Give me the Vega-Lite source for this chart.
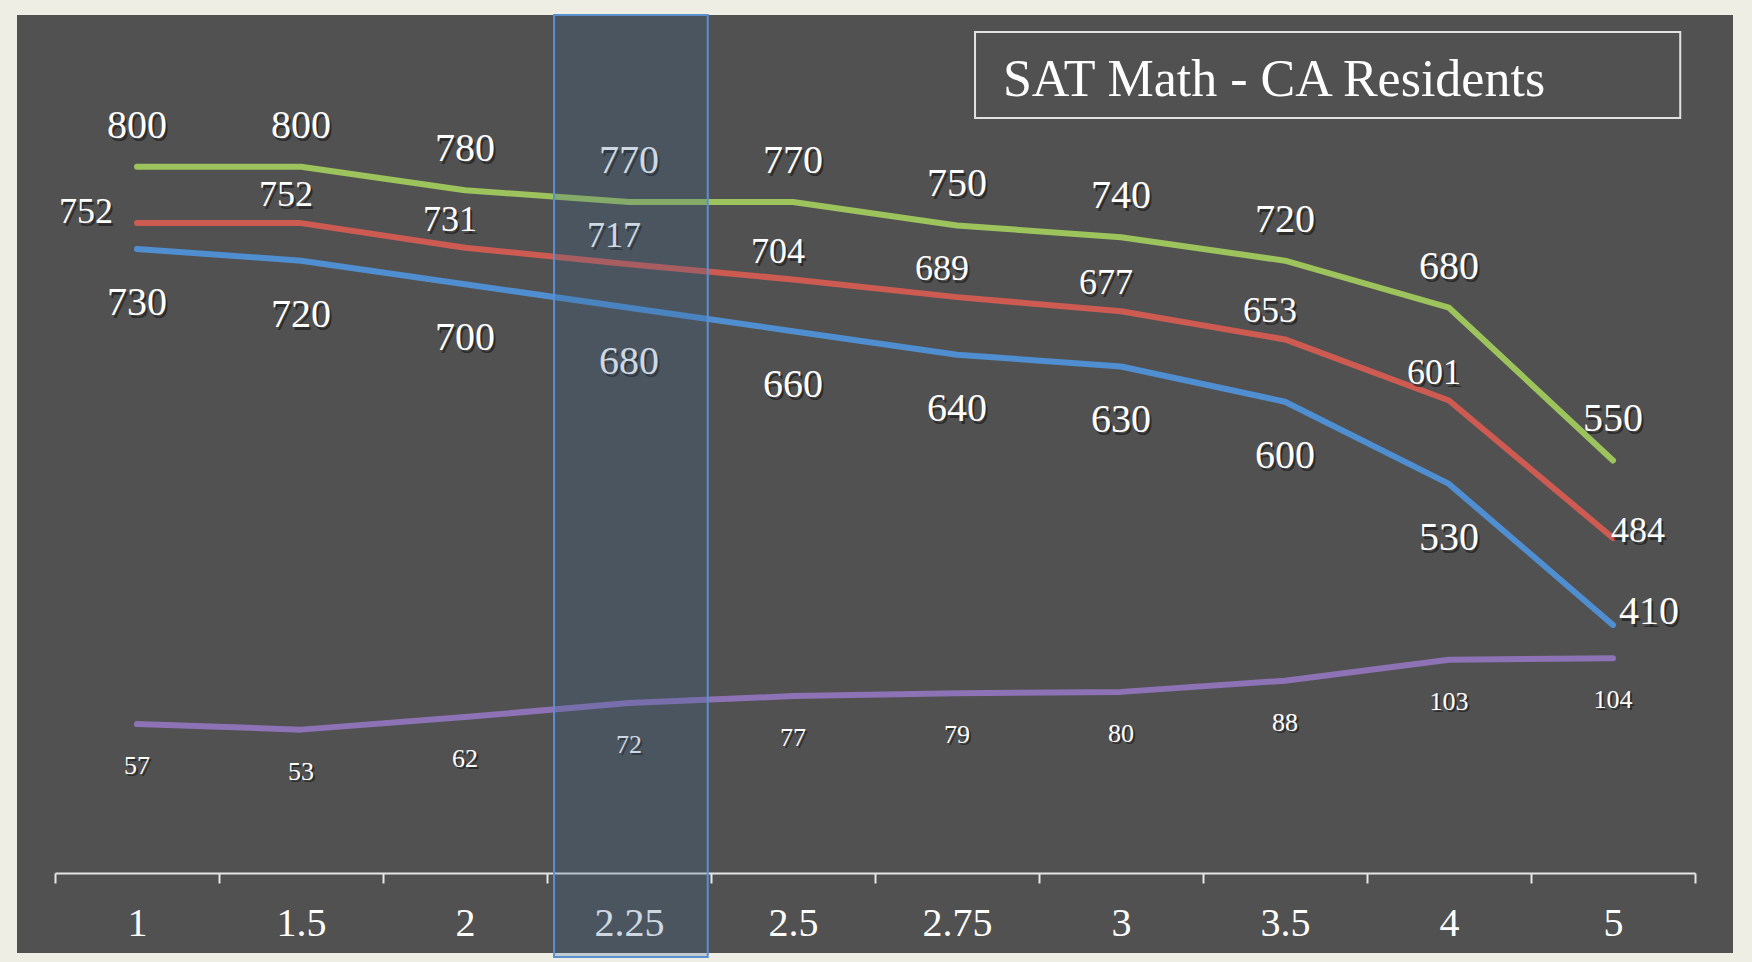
{
  "$schema": "https://vega.github.io/schema/vega-lite/v6.json",
  "width": 1640,
  "height": 862,
  "autosize": {"type": "none"},
  "padding": {"left": 55, "top": 53, "right": 57, "bottom": 47},
  "background": "#efeee4",
  "data": {
    "values": [
      {"x": "1", "top": 800, "mean": 752, "low": 730, "n": 57},
      {"x": "1.5", "top": 800, "mean": 752, "low": 720, "n": 53},
      {"x": "2", "top": 780, "mean": 731, "low": 700, "n": 62},
      {"x": "2.25", "top": 770, "mean": 717, "low": 680, "n": 72},
      {"x": "2.5", "top": 770, "mean": 704, "low": 660, "n": 77},
      {"x": "2.75", "top": 750, "mean": 689, "low": 640, "n": 79},
      {"x": "3", "top": 740, "mean": 677, "low": 630, "n": 80},
      {"x": "3.5", "top": 720, "mean": 653, "low": 600, "n": 88},
      {"x": "4", "top": 680, "mean": 601, "low": 530, "n": 103},
      {"x": "5", "top": 550, "mean": 484, "low": 410, "n": 104}
    ]
  },
  "layer": [
    {
      "transform": [{"fold": ["top", "mean", "low"], "as": ["series", "value"]}],
      "encoding": {
        "x": {"field": "x", "type": "nominal", "title": null,
              "scale": {"type": "band", "domain": ["1", "1.5", "2", "2.25", "2.5", "2.75", "3", "3.5", "4", "5"], "paddingInner": 0, "paddingOuter": 0}},
        "y": {"field": "value", "type": "quantitative", "axis": null,
              "scale": {"domain": [163.1, 896.8], "nice": false, "zero": false}},
        "text": {"field": "value", "type": "quantitative", "format": "d"}
      },
      "layer": [
        {
          "mark": {"type": "line", "strokeWidth": 6, "strokeCap": "round", "strokeJoin": "round"},
          "encoding": {
            "text": null,
            "color": {"field": "series", "type": "nominal", "legend": null,
                      "scale": {"domain": ["top", "mean", "low"], "range": ["#9dc35c", "#cd5b52", "#4f8fd1"]}}
          }
        },
        {
          "transform": [{"filter": "datum.series == 'top'"}],
          "mark": {"type": "text", "fontSize": 40, "baseline": "alphabetic", "align": "center", "dx": 2, "dy": -26, "color": "#000000", "opacity": 0.45}
        },
        {
          "transform": [{"filter": "datum.series == 'top'"}],
          "mark": {"type": "text", "fontSize": 40, "baseline": "alphabetic", "align": "center", "dy": -29}
        },
        {
          "transform": [{"filter": "datum.series == 'mean' && datum.x != '1' && datum.x != '5'"}],
          "mark": {"type": "text", "fontSize": 36, "baseline": "alphabetic", "align": "center", "dx": -13, "dy": -14, "color": "#000000", "opacity": 0.45}
        },
        {
          "transform": [{"filter": "datum.series == 'mean' && datum.x != '1' && datum.x != '5'"}],
          "mark": {"type": "text", "fontSize": 36, "baseline": "alphabetic", "align": "center", "dx": -15, "dy": -17}
        },
        {
          "transform": [{"filter": "datum.series == 'mean' && datum.x == '1'"}],
          "mark": {"type": "text", "fontSize": 36, "baseline": "alphabetic", "align": "right", "dx": -22, "dy": 3, "color": "#000000", "opacity": 0.45}
        },
        {
          "transform": [{"filter": "datum.series == 'mean' && datum.x == '1'"}],
          "mark": {"type": "text", "fontSize": 36, "baseline": "alphabetic", "align": "right", "dx": -24, "dy": 0}
        },
        {
          "transform": [{"filter": "datum.series == 'mean' && datum.x == '5'"}],
          "mark": {"type": "text", "fontSize": 36, "baseline": "alphabetic", "align": "left", "dx": 0, "dy": 7, "color": "#000000", "opacity": 0.45}
        },
        {
          "transform": [{"filter": "datum.series == 'mean' && datum.x == '5'"}],
          "mark": {"type": "text", "fontSize": 36, "baseline": "alphabetic", "align": "left", "dx": -2, "dy": 4}
        },
        {
          "transform": [{"filter": "datum.series == 'low' && datum.x != '5'"}],
          "mark": {"type": "text", "fontSize": 40, "baseline": "alphabetic", "align": "center", "dx": 2, "dy": 69, "color": "#000000", "opacity": 0.45}
        },
        {
          "transform": [{"filter": "datum.series == 'low' && datum.x != '5'"}],
          "mark": {"type": "text", "fontSize": 40, "baseline": "alphabetic", "align": "center", "dy": 66}
        },
        {
          "transform": [{"filter": "datum.series == 'low' && datum.x == '5'"}],
          "mark": {"type": "text", "fontSize": 40, "baseline": "alphabetic", "align": "left", "dx": 8, "dy": 2, "color": "#000000", "opacity": 0.45}
        },
        {
          "transform": [{"filter": "datum.series == 'low' && datum.x == '5'"}],
          "mark": {"type": "text", "fontSize": 40, "baseline": "alphabetic", "align": "left", "dx": 6, "dy": -1}
        }
      ]
    },
    {
      "encoding": {
        "x": {"field": "x", "type": "nominal", "axis": null,
              "scale": {"type": "band", "domain": ["1", "1.5", "2", "2.25", "2.5", "2.75", "3", "3.5", "4", "5"], "paddingInner": 0, "paddingOuter": 0}},
        "y": {"field": "n", "type": "quantitative", "axis": null,
              "scale": {"domain": [-79.6, 537], "nice": false, "zero": false}},
        "text": {"field": "n", "type": "quantitative", "format": "d"}
      },
      "layer": [
        {
          "mark": {"type": "line", "strokeWidth": 6, "strokeCap": "round", "strokeJoin": "round", "color": "#8d72b5"},
          "encoding": {"text": null}
        },
        {
          "mark": {"type": "text", "fontSize": 26, "baseline": "alphabetic", "align": "center", "dx": 2, "dy": 52, "color": "#000000", "opacity": 0.45}
        },
        {
          "mark": {"type": "text", "fontSize": 26, "baseline": "alphabetic", "align": "center", "dy": 50}
        }
      ]
    },
    {
      "data": {"values": [{"label": "SAT Math - CA Residents"}]},
      "encoding": {
        "x": {"datum": 5.78, "type": "quantitative", "axis": null, "scale": {"domain": [0, 10], "nice": false, "zero": false}},
        "y": {"datum": 860.2, "type": "quantitative", "axis": null, "scale": {"domain": [163.1, 896.8], "nice": false, "zero": false}},
        "text": {"field": "label", "type": "nominal"}
      },
      "layer": [
        {
          "mark": {"type": "rect", "fillOpacity": 0, "stroke": "#e2e2e2", "strokeWidth": 2},
          "encoding": {
            "text": null,
            "x": {"datum": 5.61, "type": "quantitative", "axis": null, "scale": {"domain": [0, 10], "nice": false, "zero": false}},
            "x2": {"datum": 9.91},
            "y": {"datum": 914.7, "type": "quantitative", "axis": null, "scale": {"domain": [163.1, 896.8], "nice": false, "zero": false}},
            "y2": {"datum": 841.5}
          }
        },
        {
          "mark": {"type": "text", "fontSize": 52, "baseline": "alphabetic", "align": "left"}
        }
      ]
    },
    {
      "data": {"values": [{"band": "2.25"}]},
      "mark": {"type": "rect", "fill": "#3d6591", "fillOpacity": 0.25, "stroke": "#5b8fd0", "strokeWidth": 2},
      "encoding": {
        "x": {"datum": 3.043, "type": "quantitative", "axis": null, "scale": {"domain": [0, 10], "nice": false, "zero": false}},
        "x2": {"datum": 3.98},
        "y": {"datum": 929.1, "type": "quantitative", "axis": null, "scale": {"domain": [163.1, 896.8], "nice": false, "zero": false}},
        "y2": {"datum": 127.4}
      }
    }
  ],
  "resolve": {"scale": {"x": "independent", "y": "independent"}},
  "config": {
    "view": {"fill": "#515151", "stroke": "#515151", "strokeWidth": 76},
    "axisX": {
      "offset": -42,
      "tickBand": "extent",
      "tickSize": 10,
      "tickWidth": 2,
      "tickColor": "#e6e6e6",
      "domainColor": "#e6e6e6",
      "domainWidth": 2,
      "grid": false,
      "labelAngle": 0,
      "labelFont": "Liberation Serif",
      "labelFontSize": 40,
      "labelColor": "#ffffff",
      "labelPadding": 20
    },
    "text": {"font": "Liberation Serif", "color": "#ffffff"}
  }
}
